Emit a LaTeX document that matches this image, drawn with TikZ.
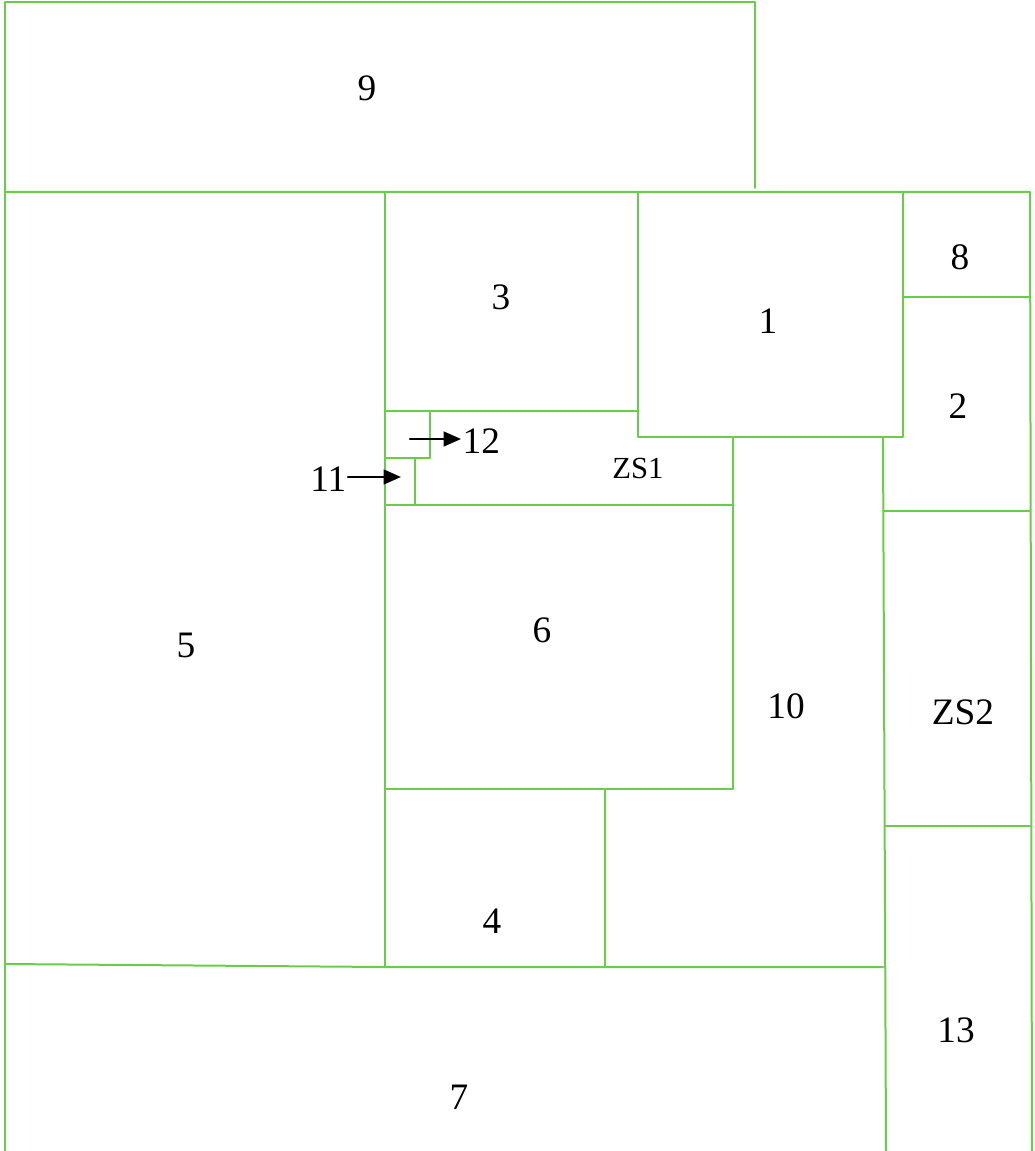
\documentclass[tikz,border=0pt]{standalone}
\usepackage{fontspec}
\setmainfont{Liberation Serif}
\usetikzlibrary{arrows.meta}
\definecolor{wallgreen}{RGB}{104,206,74}

\begin{document}
\begin{tikzpicture}[x=0.75pt,y=-0.75pt,>={Stealth[length=13pt,width=11pt,inset=0pt]},line cap=round,line join=round,
  wall/.style={draw=wallgreen,line width=1.5pt},
  room/.style={font=\fontsize{28}{30}\selectfont},
  smallroom/.style={font=\fontsize{23}{25}\selectfont}]
\useasboundingbox (0,0) rectangle (1034,1151);
% outer walls
\draw[wall] (5,1151) -- (5,2) -- (755,2) -- (755,188);
\draw[wall] (5,192) -- (1030,192) -- (1032,1151);
% inner walls
\draw[wall] (385,192) -- (385,967);
\draw[wall] (385,411) -- (638,411);
\draw[wall] (638,192) -- (638,437) -- (903,437) -- (903,192);
\draw[wall] (903,297) -- (1030,297);
\draw[wall] (883,437) -- (886,1151);
\draw[wall] (883,511) -- (1030,511);
\draw[wall] (733,437) -- (733,789) -- (385,789);
\draw[wall] (385,505) -- (733,505);
\draw[wall] (385,458) -- (430,458) -- (430,411);
\draw[wall] (415,458) -- (415,505);
\draw[wall] (605,789) -- (605,967);
\draw[wall] (5,964) -- (385,967) -- (883,967);
\draw[wall] (885,826) -- (1030,826);
% room labels
\node[room] (r9) at (367,88) {9};
\node[room] (r3) at (501,297) {3};
\node[room] (r1) at (768,321) {1};
\node[room] (r8) at (960,257) {8};
\node[room] (r2) at (958,406) {2};
\node[smallroom] (zs1) at (638,468) {ZS1};
\node[room] (r5) at (186,645) {5};
\node[room] (r6) at (542,630) {6};
\node[room] (r10) at (786,706) {10};
\node[room] (zs2) at (963,712) {ZS2};
\node[room] (r4) at (492,921) {4};
\node[room] (r13) at (956,1030) {13};
\node[room] (r7) at (459,1097) {7};
% tiny rooms
\node[room,anchor=west,inner sep=1pt] (r12) at (461,441) {12};
\node[room,anchor=east,inner sep=1pt] (r11) at (348,479) {11};
\coordinate (in12) at (410,439);
\coordinate (in11) at (401,477);
\draw[->,line width=1.8pt] (in12) -- (in12 -| r12.west);
\draw[->,line width=1.8pt] (r11.east |- in11) -- (in11);
\end{tikzpicture}
\end{document}
